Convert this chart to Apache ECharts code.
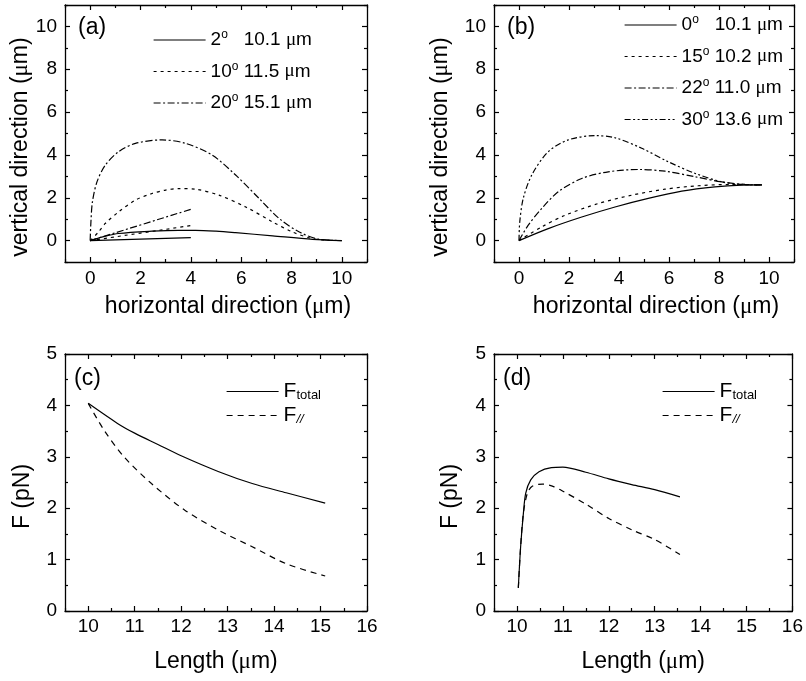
<!DOCTYPE html>
<html>
<head>
<meta charset="utf-8">
<script src="https://cdn.jsdelivr.net/npm/echarts@6/dist/echarts.min.js"></script>
<style>
  html, body { margin: 0; padding: 0; background: #fff; }
  #chart { width: 806px; height: 681px; }
</style>
</head>
<body>
<div id="chart"></div>
<script>
// ---- (a) filament shapes for different launch angles, [x, y] in μm ----
const shapeA2  = [[0,0],[0.5,0.17],[1.13,0.33],[2.46,0.44],[3.5,0.48],[4.19,0.48],[5.0,0.44],[5.78,0.37],[7.25,0.22],[8.84,0.06],[10,0]];
const shapeA10 = [[0,0],[0.33,0.40],[0.6,0.8],[1.13,1.34],[1.8,1.89],[2.46,2.2],[3.0,2.36],[3.52,2.43],[4.19,2.4],[5.12,2.12],[6.18,1.57],[7.25,0.87],[8.04,0.40],[8.84,0.09],[9.4,0.02],[10,0]];
const shapeA20 = [[0,0],[0.03,0.87],[0.09,1.81],[0.27,2.74],[0.6,3.52],[1.13,4.15],[1.8,4.54],[2.86,4.70],[3.79,4.54],[4.85,3.99],[5.78,3.06],[6.71,1.97],[7.51,1.03],[8.31,0.40],[9.1,0.06],[10,0]];
// initial tangent directions
const tangentA2  = [[0,0],[4,0.14]];
const tangentA10 = [[0,0],[4,0.70]];
const tangentA20 = [[0,0],[4,1.46]];
const anglesA  = [2, 10, 20];
const lengthsA = ['10.1', '11.5', '15.1'];

// ---- (b) filament shapes ----
const shapeB0  = [[0,0],[1.17,0.56],[2.51,1.1],[3.84,1.57],[5.17,1.97],[6.51,2.31],[7.84,2.51],[8.91,2.59],[9.71,2.6]];
const shapeB15 = [[0,0],[0.91,0.64],[1.84,1.18],[3.17,1.73],[4.51,2.12],[5.84,2.40],[7.17,2.56],[8.51,2.62],[9.71,2.6]];
const shapeB22 = [[0,0],[0.37,0.72],[0.91,1.5],[1.57,2.28],[2.51,2.9],[3.57,3.21],[4.77,3.32],[5.84,3.24],[7.04,2.98],[8.11,2.74],[9.04,2.62],[9.71,2.6]];
const shapeB30 = [[0,0],[0.03,0.87],[0.17,1.97],[0.51,3.06],[1.17,4.15],[1.97,4.70],[3.04,4.9],[3.84,4.8],[4.91,4.31],[5.97,3.68],[7.04,3.14],[8.11,2.74],[8.91,2.62],[9.71,2.6]];
const anglesB  = [0, 15, 22, 30];
const lengthsB = ['10.1', '10.2', '11.0', '13.6'];

// ---- (c), (d) force vs. filament length, [length μm, F pN] ----
const forceCTotal = [[10,4.04],[10.63,3.65],[11,3.46],[11.5,3.24],[12,3.02],[12.81,2.71],[13.53,2.48],[14.26,2.30],[15.1,2.10]];
const forceCPar   = [[10,4.04],[10.34,3.52],[10.77,3.0],[11.36,2.48],[12.08,1.96],[12.81,1.57],[13.53,1.25],[14.26,0.92],[15.1,0.68]];
const forceDTotal = [[10.03,0.45],[10.08,1.25],[10.14,1.9],[10.19,2.29],[10.30,2.55],[10.48,2.71],[10.75,2.79],[11,2.8],[11.5,2.7],[12,2.57],[12.5,2.46],[13,2.36],[13.55,2.22]];
const forceDPar   = [[10.03,0.45],[10.08,1.25],[10.14,1.9],[10.23,2.3],[10.34,2.43],[10.56,2.47],[10.77,2.43],[11,2.33],[11.5,2.08],[12,1.8],[12.5,1.58],[13,1.39],[13.55,1.10]];

// ---- tick values ----
const shapeMajorTicks = [0, 2, 4, 6, 8, 10];
const shapeMinorTicks = [-1, 1, 3, 5, 7, 9, 11];
const lengthMajorTicks = [10, 11, 12, 13, 14, 15, 16];
const lengthMinorTicks = [9.5, 10.5, 11.5, 12.5, 13.5, 14.5, 15.5];
const forceMajorTicks = [0, 1, 2, 3, 4, 5];
const forceMinorTicks = [0.5, 1.5, 2.5, 3.5, 4.5];

const FONT = 'Liberation Sans';
const SERIF = 'Liberation Serif';
const INK = '#000';
const LINE_W = 1.2;

// dash patterns
const DASH = {
  solid: 'solid',
  dot: [3, 4],
  dashDot: [7, 2.5, 2, 2.5],
  dashDotDot: [6, 2.5, 2, 2.5, 2, 2.5],
  dash: [6, 5]
};

const muRich = { mu: { fontFamily: SERIF, fontSize: 23, color: INK } };

const xAxes = [];
const yAxes = [];

function tickAxis(dim, grid, pos, min, max, ticks, len, main, extra) {
  const ax = Object.assign({
    type: 'value', gridIndex: grid, position: pos, min: min, max: max,
    splitLine: { show: false },
    axisLine: { show: main, onZero: false, lineStyle: { color: INK, width: 1.3 } },
    axisTick: { show: true, inside: true, length: len, customValues: ticks, lineStyle: { color: INK, width: 1.2 } },
    axisLabel: { show: false }
  }, extra || {});
  (dim === 'x' ? xAxes : yAxes).push(ax);
  return (dim === 'x' ? xAxes : yAxes).length - 1;
}

function panel(g, p) {
  const label = (vals, margin) => ({
    show: true, customValues: vals, margin: margin,
    fontFamily: FONT, fontSize: 19, color: INK
  });
  const xi = tickAxis('x', g, 'bottom', p.xMin, p.xMax, p.xMajor, 5, true, {
    axisLabel: label(p.xMajor, p.xLabelMargin),
    name: p.xName, nameLocation: 'middle', nameGap: p.xNameGap,
    nameTextStyle: { fontFamily: FONT, fontSize: 23, color: INK, padding: p.xNamePad, rich: muRich }
  });
  tickAxis('x', g, 'top', p.xMin, p.xMax, p.xMajor, 5, true);
  tickAxis('x', g, 'bottom', p.xMin, p.xMax, p.xMinor, 3, false);
  tickAxis('x', g, 'top', p.xMin, p.xMax, p.xMinor, 3, false);
  const yi = tickAxis('y', g, 'left', p.yMin, p.yMax, p.yMajor, 5, true, {
    axisLabel: label(p.yMajor, 8),
    name: p.yName, nameLocation: 'middle', nameGap: p.yNameGap,
    nameTextStyle: { fontFamily: FONT, fontSize: 23, color: INK, padding: p.yNamePad, rich: muRich }
  });
  tickAxis('y', g, 'right', p.yMin, p.yMax, p.yMajor, 5, true);
  tickAxis('y', g, 'left', p.yMin, p.yMax, p.yMinor, 3, false);
  tickAxis('y', g, 'right', p.yMin, p.yMax, p.yMinor, 3, false);
  return { x: xi, y: yi };
}

const shapePanel = (g, yGap) => panel(g, {
  xMin: -1, xMax: 11, xMajor: shapeMajorTicks, xMinor: shapeMinorTicks,
  yMin: -1, yMax: 11, yMajor: shapeMajorTicks, yMinor: shapeMinorTicks,
  xName: 'horizontal direction ({mu|μ}m)', xNameGap: 33, xNamePad: [0, 0, 0, 24], xLabelMargin: 7,
  yName: 'vertical direction ({mu|μ}m)', yNameGap: yGap, yNamePad: [0, 27, 0, 0]
});
const forcePanel = (g, yGap) => panel(g, {
  xMin: 9.5, xMax: 16, xMajor: lengthMajorTicks, xMinor: lengthMinorTicks,
  yMin: 0, yMax: 5, yMajor: forceMajorTicks, yMinor: forceMinorTicks,
  xName: 'Length ({mu|μ}m)', xNameGap: 39, xNamePad: [0, 0, 0, 0], xLabelMargin: 6,
  yName: 'F (pN)', yNameGap: yGap, yNamePad: [0, 28, 0, 0]
});

const axA = shapePanel(0, 33);
const axB = shapePanel(1, 42);
const axC = forcePanel(2, 31);
const axD = forcePanel(3, 32);

function curve(name, ax, data, dash) {
  return {
    type: 'line', name: name, xAxisIndex: ax.x, yAxisIndex: ax.y,
    data: data, symbol: 'none', showSymbol: false, smooth: 0.3,
    lineStyle: { color: INK, width: LINE_W, type: dash },
    itemStyle: { color: INK },
    emphasis: { disabled: true }, animation: false
  };
}

const angleName = (a, l) => a + '° ' + l + ' μm';
const dashesA = [DASH.solid, DASH.dot, DASH.dashDot];
const dashesB = [DASH.solid, DASH.dot, DASH.dashDot, DASH.dashDotDot];
const shapesA = [shapeA2, shapeA10, shapeA20];
const tangentsA = [tangentA2, tangentA10, tangentA20];
const shapesB = [shapeB0, shapeB15, shapeB22, shapeB30];

const series = [];
anglesA.forEach((a, i) => {
  series.push(curve(angleName(a, lengthsA[i]), axA, shapesA[i], dashesA[i]));
  series.push(curve('tangent ' + a + '°', axA, tangentsA[i], dashesA[i]));
});
anglesB.forEach((a, i) => {
  series.push(curve(angleName(a, lengthsB[i]), axB, shapesB[i], dashesB[i]));
});
series.push(curve('F_total', axC, forceCTotal, DASH.solid));
series.push(curve('F_par', axC, forceCPar, DASH.dash));
series.push(curve('F_total', axD, forceDTotal, DASH.solid));
series.push(curve('F_par', axD, forceDPar, DASH.dash));

const angleRich = {
  n:  { fontFamily: FONT, fontSize: 19, color: INK, lineHeight: 22 },
  s:  { fontFamily: FONT, fontSize: 12, color: INK, lineHeight: 10, verticalAlign: 'top' },
  mu: { fontFamily: SERIF, fontSize: 19, color: INK, lineHeight: 22 }
};
function angleLabel(name) {
  const m = name.match(/^(\d+)° ([\d.]+) μm$/);
  const a = m[1];
  const gap = a.length < 2 ? '   ' : ' ';
  return '{n|' + a + '}{s|o}{n|' + gap + m[2] + ' }{mu|μ}{n|m}';
}
const forceRich = {
  F:   { fontFamily: FONT, fontSize: 21, color: INK, lineHeight: 20 },
  sub: { fontFamily: FONT, fontSize: 13, color: INK, lineHeight: 12, verticalAlign: 'bottom' },
  par: { fontFamily: FONT, fontSize: 13, color: INK, lineHeight: 12, verticalAlign: 'bottom', fontStyle: 'italic' }
};
function forceLabel(name) {
  return name === 'F_total' ? '{F|F}{sub|total}' : '{F|F}{par|//}';
}

// legend entries show only the line sample (no marker)
function legendItems(names, dashes) {
  return names.map((n, i) => ({
    name: n,
    lineStyle: { color: INK, width: LINE_W, type: dashes[i] },
    itemStyle: { opacity: 0, borderWidth: 0 }
  }));
}

const legends = [
  { left: 153, top: 29, itemGap: 11, data: legendItems(anglesA.map((a, i) => angleName(a, lengthsA[i])), dashesA),
    formatter: angleLabel, textStyle: { rich: angleRich } },
  { left: 624, top: 14, itemGap: 11, data: legendItems(anglesB.map((a, i) => angleName(a, lengthsB[i])), dashesB),
    formatter: angleLabel, textStyle: { rich: angleRich } },
  { left: 226, top: 381, itemGap: 3, data: legendItems(['F_total', 'F_par'], [DASH.solid, DASH.dash]),
    formatter: forceLabel, textStyle: { rich: forceRich } },
  { left: 662, top: 381, itemGap: 3, data: legendItems(['F_total', 'F_par'], [DASH.solid, DASH.dash]),
    formatter: forceLabel, textStyle: { rich: forceRich } }
].map(l => Object.assign({
  orient: 'vertical', padding: 0, itemWidth: 52, itemHeight: 14,
  selectedMode: false, itemStyle: { opacity: 0, borderWidth: 0 }
}, l));

const panelTag = (text, left, top) => ({
  text: text, left: left, top: top, padding: 0,
  textStyle: { fontFamily: FONT, fontSize: 23, fontWeight: 'normal', color: INK }
});

const chart = echarts.init(document.getElementById('chart'), null, { renderer: 'canvas' });
chart.setOption({
  backgroundColor: '#fff',
  animation: false,
  title: [
    panelTag('(a)', 78, 16),
    panelTag('(b)', 507, 16),
    panelTag('(c)', 74, 367),
    panelTag('(d)', 503, 367)
  ],
  legend: legends,
  grid: [
    { left: 65, top: 5, width: 302, height: 257 },
    { left: 494, top: 5, width: 300, height: 257 },
    { left: 65, top: 354, width: 302, height: 257 },
    { left: 494, top: 354, width: 300, height: 257 }
  ],
  xAxis: xAxes,
  yAxis: yAxes,
  series: series
});
</script>
</body>
</html>
